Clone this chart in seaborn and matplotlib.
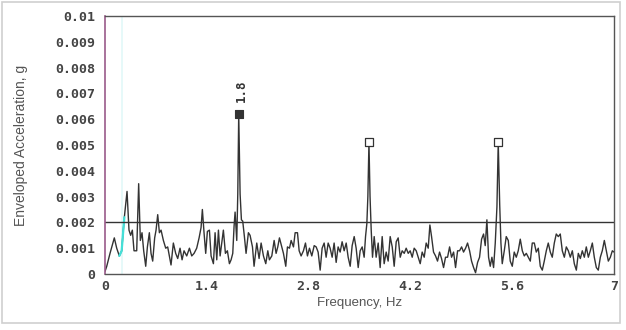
import matplotlib
matplotlib.use("Agg")
import matplotlib.pyplot as plt
import seaborn as sns
import numpy as np
import pandas as pd
from matplotlib.patches import Rectangle
from matplotlib.ticker import MultipleLocator

# ---- data (frequency in Hz, amplitude in mg) ----
freq = [0.0, 0.023, 0.069, 0.128, 0.161, 0.197, 0.229, 0.266, 0.303, 0.330, 0.353, 0.376, 0.399, 0.436,
        0.463, 0.486, 0.509, 0.532, 0.560, 0.583, 0.610, 0.633, 0.656, 0.683, 0.702, 0.725, 0.748, 0.771,
        0.803, 0.835, 0.862, 0.885, 0.908, 0.940, 0.972, 1.000, 1.032, 1.060, 1.087, 1.124, 1.161, 1.193,
        1.225, 1.261, 1.294, 1.321, 1.339, 1.362, 1.385, 1.408, 1.436, 1.459, 1.491, 1.514, 1.537, 1.560,
        1.583, 1.606, 1.628, 1.656, 1.683, 1.711, 1.734, 1.757, 1.775, 1.789, 1.812, 1.826, 1.839, 1.858,
        1.876, 1.894, 1.917, 1.940, 1.972, 1.995, 2.028, 2.050, 2.087, 2.119, 2.147, 2.179, 2.211, 2.239,
        2.261, 2.294, 2.326, 2.353, 2.376, 2.399, 2.431, 2.454, 2.486, 2.509, 2.537, 2.560, 2.592, 2.615,
        2.647, 2.670, 2.697, 2.729, 2.757, 2.784, 2.812, 2.844, 2.877, 2.904, 2.931, 2.959, 2.986, 3.014,
        3.041, 3.069, 3.096, 3.124, 3.151, 3.179, 3.206, 3.234, 3.261, 3.289, 3.317, 3.344, 3.372, 3.399,
        3.427, 3.454, 3.482, 3.509, 3.537, 3.564, 3.583, 3.601, 3.615, 3.630, 3.645, 3.661, 3.679, 3.702,
        3.729, 3.757, 3.784, 3.812, 3.839, 3.867, 3.894, 3.922, 3.950, 3.977, 4.005, 4.032, 4.060, 4.087,
        4.115, 4.142, 4.170, 4.197, 4.225, 4.252, 4.280, 4.307, 4.335, 4.362, 4.390, 4.417, 4.445, 4.468,
        4.491, 4.518, 4.546, 4.573, 4.601, 4.628, 4.656, 4.683, 4.711, 4.739, 4.766, 4.794, 4.821, 4.849,
        4.876, 4.904, 4.931, 4.959, 4.986, 5.014, 5.041, 5.069, 5.096, 5.124, 5.151, 5.179, 5.206, 5.229,
        5.252, 5.275, 5.298, 5.321, 5.344, 5.367, 5.390, 5.408, 5.428, 5.445, 5.463, 5.491, 5.518, 5.546,
        5.573, 5.601, 5.628, 5.656, 5.683, 5.711, 5.739, 5.766, 5.794, 5.821, 5.849, 5.876, 5.904, 5.931,
        5.959, 5.986, 6.014, 6.041, 6.069, 6.096, 6.124, 6.151, 6.179, 6.206, 6.234, 6.261, 6.289, 6.317,
        6.344, 6.372, 6.399, 6.427, 6.454, 6.482, 6.509, 6.537, 6.564, 6.592, 6.619, 6.647, 6.674, 6.702,
        6.729, 6.757, 6.784, 6.812, 6.839, 6.867, 6.894, 6.922, 6.950, 6.977, 7.0]
amp_mg = [0.1, 0.29, 0.8, 1.4, 1.0, 0.7, 0.9, 2.2, 3.2, 1.7, 1.5, 1.7, 0.9, 0.9,
          3.5, 1.3, 1.6, 0.9, 0.3, 1.05, 1.6, 0.8, 0.5, 1.4, 1.7, 2.3, 1.6, 1.7,
          1.3, 1.0, 1.05, 0.7, 0.35, 1.2, 0.8, 0.6, 1.0, 0.55, 0.9, 0.7, 1.0, 0.7,
          0.8, 1.0, 1.4, 1.8, 2.5, 1.6, 0.8, 1.65, 1.7, 0.7, 0.4, 1.6, 0.55, 1.7,
          0.7, 1.2, 1.7, 0.8, 0.9, 0.4, 0.55, 0.8, 1.85, 2.4, 1.3, 3.1, 6.2, 3.1,
          2.1, 2.05, 1.45, 0.8, 1.6, 1.5, 1.05, 0.3, 1.2, 0.6, 1.2, 0.7, 0.4, 0.9,
          0.55, 0.7, 1.3, 0.8, 1.05, 1.4, 1.05, 0.8, 0.3, 1.05, 1.0, 1.3, 1.05, 1.6,
          1.6, 0.9, 0.7, 0.9, 1.2, 0.7, 1.0, 0.7, 1.1, 1.05, 0.85, 0.15, 1.0, 1.2,
          0.65, 1.2, 1.0, 0.65, 1.2, 0.45, 1.05, 0.85, 1.25, 0.9, 1.2, 0.65, 0.3, 1.1,
          1.45, 1.0, 0.25, 0.9, 1.05, 0.65, 1.45, 1.95, 3.0, 5.1, 3.0, 1.7, 0.65, 1.45,
          0.65, 1.2, 0.25, 1.45, 0.4, 0.85, 0.5, 1.45, 1.05, 0.3, 1.25, 1.4, 0.65, 0.9,
          0.8, 1.0, 0.8, 0.9, 0.65, 1.0, 0.9, 0.65, 0.4, 0.85, 0.65, 1.2, 1.0, 1.9,
          1.45, 0.85, 0.7, 0.5, 0.85, 0.6, 0.25, 0.65, 0.65, 1.05, 0.65, 0.85, 0.25, 0.9,
          0.9, 1.05, 0.85, 1.0, 1.2, 0.9, 0.5, 0.25, 0.05, 0.45, 0.65, 1.35, 1.55, 1.1,
          2.1, 0.65, 0.3, 0.65, 0.25, 1.2, 2.6, 5.1, 2.7, 1.2, 0.4, 0.9, 1.45, 1.3,
          0.5, 0.3, 0.85, 0.65, 0.9, 1.35, 0.9, 0.7, 0.8, 0.65, 0.5, 1.2, 1.2, 0.85,
          1.0, 0.3, 0.15, 0.5, 0.9, 1.2, 0.85, 0.65, 1.2, 1.55, 1.45, 1.55, 0.9, 0.65,
          1.05, 0.9, 0.65, 0.9, 0.4, 0.15, 0.8, 0.6, 0.9, 0.65, 1.05, 0.65, 0.9, 1.2,
          0.65, 0.25, 0.15, 0.65, 0.9, 1.3, 0.9, 0.5, 0.65, 0.9, 0.85]

peak_freq = [1.839, 3.630, 5.408]
peak_amp_mg = [6.2, 5.1, 5.1]
peak_label = "1.8"
alarm_level = 0.002

x_ticks = [0, 1.4, 2.8, 4.2, 5.6, 7]
x_tick_labels = ["0", "1.4", "2.8", "4.2", "5.6", "7"]
y_ticks = [0, 0.001, 0.002, 0.003, 0.004, 0.005, 0.006, 0.007, 0.008, 0.009, 0.01]
y_tick_labels = ["0", "0.001", "0.002", "0.003", "0.004", "0.005", "0.006", "0.007", "0.008", "0.009", "0.01"]

df = pd.DataFrame({"freq": freq, "amp": np.array(amp_mg) / 1000.0})
pk = pd.DataFrame({"freq": peak_freq, "amp": np.array(peak_amp_mg) / 1000.0})

sns.set_style("white")
fig = plt.figure(figsize=(6.26, 3.30), dpi=100)
ax = fig.add_axes([105 / 626, 56 / 330, 509 / 626, 258 / 330])

sns.lineplot(data=df, x="freq", y="amp", ax=ax, color="#333333", lw=1.0,
             sort=False, estimator=None)
# cyan highlighted bit near the start
cy = df[(df.freq >= 0.19) & (df.freq <= 0.27)]
sns.lineplot(data=cy, x="freq", y="amp", ax=ax, color="#44e0d8", lw=1.6,
             sort=False, estimator=None)
ax.axvline(0.23, color="#e2f8f8", lw=1.2, zorder=0)

ax.axhline(alarm_level, color="#333333", lw=1.0)

sns.scatterplot(data=pk.iloc[[0]], x="freq", y="amp", ax=ax, marker="s", s=30,
                color="#333333", edgecolor="#333333", linewidth=0.8, zorder=5)
sns.scatterplot(data=pk.iloc[1:], x="freq", y="amp", ax=ax, marker="s", s=30,
                facecolor="white", edgecolor="#333333", linewidth=0.9, zorder=5)
ax.text(pk.freq[0] + 0.03, pk.amp[0] + 0.00045, peak_label, rotation=90,
        ha="center", va="bottom", fontsize=9, family="DejaVu Sans Mono",
        fontweight="bold", color="#333333")

ax.set_xlim(0, 7)
ax.set_ylim(0, 0.01)
ax.set_xticks(x_ticks)
ax.set_xticklabels(x_tick_labels)
ax.set_yticks(y_ticks)
ax.set_yticklabels(y_tick_labels)
ax.xaxis.set_minor_locator(MultipleLocator(0.14))
ax.yaxis.set_minor_locator(MultipleLocator(0.0001))

for lab in ax.get_xticklabels() + ax.get_yticklabels():
    lab.set_family("DejaVu Sans Mono")
    lab.set_fontweight("bold")
    lab.set_fontsize(9.5)
    lab.set_color("#444444")

ax.tick_params(axis="x", which="major", direction="in", length=5, width=1.0,
               color="#444444", pad=4)
ax.tick_params(axis="x", which="minor", direction="in", length=3, width=0.8,
               color="#444444")
ax.tick_params(axis="y", which="major", direction="out", length=4, width=1.0,
               color="#8a4a7a", pad=3)
ax.tick_params(axis="y", which="minor", direction="out", length=2.5, width=0.7,
               color="#a06090")
ax.tick_params(top=False, right=False)

for s in ["top", "right", "bottom"]:
    ax.spines[s].set_color("#555555")
    ax.spines[s].set_linewidth(1.0)
ax.spines["left"].set_color("#9a5a8a")
ax.spines["left"].set_linewidth(1.2)

ax.set_xlabel("Frequency, Hz", fontsize=9.5, family="Liberation Sans",
              color="#555555", labelpad=3)
ax.set_ylabel("Enveloped Acceleration, g", fontsize=10, family="Liberation Sans",
              color="#555555", labelpad=20)

fig.patches.append(Rectangle((0.003, 0.02), 0.988, 0.975, transform=fig.transFigure,
                             fill=False, edgecolor="#cfcfcf", lw=1.2))

fig.savefig("out.png", dpi=100)
